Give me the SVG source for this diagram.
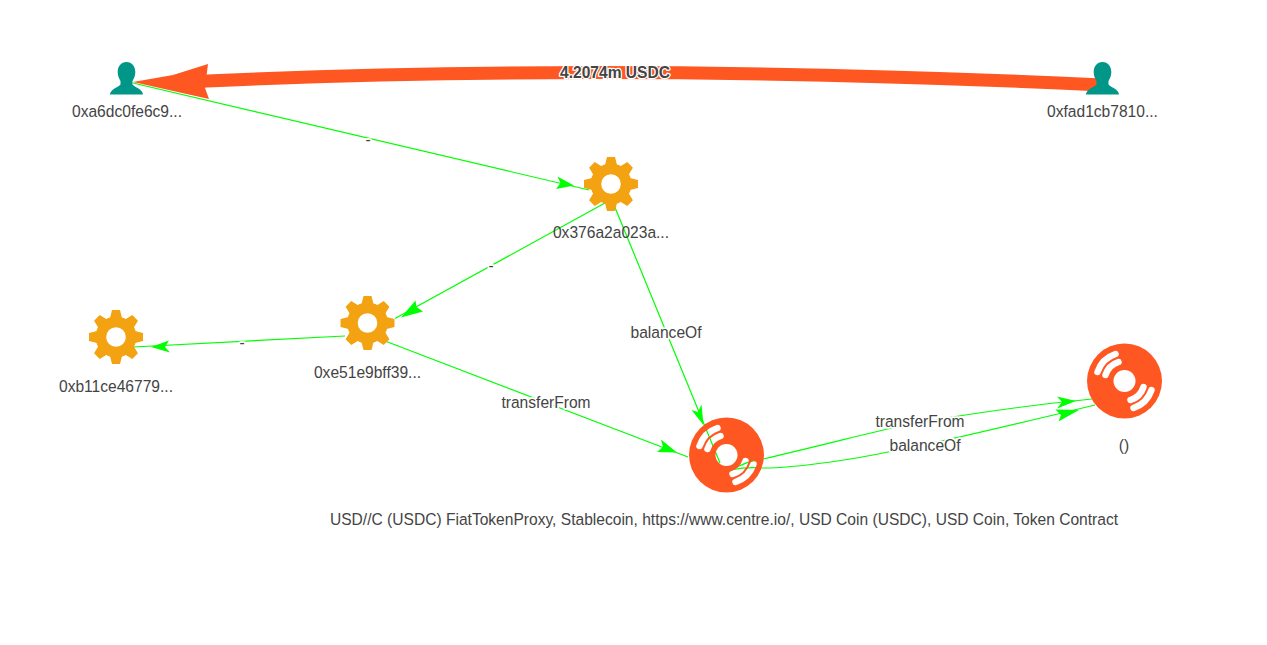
<svg xmlns="http://www.w3.org/2000/svg" width="1267" height="645" viewBox="0 0 1267 645">
<style>
text{font-family:"Liberation Sans",Arial,sans-serif;font-size:15.580px;fill:#444;text-anchor:middle}
.l{stroke:#fff;stroke-width:3.500px;paint-order:stroke;stroke-linejoin:round}
.e{fill:none;stroke:#00ff00;stroke-width:1.200}
.h{fill:#00ff00}
.g{fill:#f3a312}
.p{fill:#009688}
.d{fill:#ff5722}
</style>
<defs>
<mask id="dm" maskUnits="userSpaceOnUse" x="-40" y="-40" width="80" height="80">
<circle r="37.500" fill="#fff"/>
<circle r="11" fill="#000"/>
<g fill="none" stroke="#000" stroke-width="6.500" stroke-linecap="round">
<path d="M-27-9A28.500 28.500 0 0 1-9-27"/><path d="M-19-6A20 20 0 0 1-6-19"/>
<path d="M27 9A28.500 28.500 0 0 1 9 27"/><path d="M19 6A20 20 0 0 1 6 19"/>
</g>
</mask>
<g id="disc"><rect x="-40" y="-40" width="80" height="80" class="d" mask="url(#dm)"/></g>
<path id="t" d="M-4-27H4L6.500-17H-6.500ZM-4 27H4L6.500 17H-6.500Z"/>
<g id="gear"><circle r="20.500" class="g"/><use href="#t" class="g"/><use href="#t" class="g" transform="rotate(45)"/><use href="#t" class="g" transform="rotate(90)"/><use href="#t" class="g" transform="rotate(135)"/><circle r="9.800" fill="#fff"/></g>
<path id="person" class="p" d="M0-16.500C5.500-16.500 8.800-12 8.800-6.500C8.800-2.500 7.500 0 6 2.500V6C8 8.500 16.500 11 16.500 16H-16.500C-16.500 11-8 8.500-6 6V2.500C-7.500 0-8.800-2.500-8.800-6.500C-8.800-12-5.500-16.500 0-16.500Z"/>
</defs>
<g id="connectors">
<path class="e" d="M133 83L589 190"/><path class="h" d="M574 185.500L556 189L560.500 183L557.500 176.500Z"/>
<path class="e" d="M605 203L395 318.500"/><path class="h" d="M401 317.500L415.500 300.500L416.500 307L423 311.500Z"/>
<path class="e" d="M345 336L133 347"/><path class="h" d="M151 347L169 340.500L165 347L170 352.500Z"/>
<path class="e" d="M385 341L688 457"/><path class="h" d="M677 452.500L657 452L663 447L661 439.500Z"/>
<path class="e" d="M614 205L720 463"/><path class="h" d="M703.500 425L691.500 410L698 412L701.500 404.500Z"/>
<path class="e" d="M730 471C745 462 752 461 763 459C820 446 880 430 897 427C920 422 1000 408 1092 399"/><path class="h" d="M1076 401L1057 396.500L1062 402L1057 408.500Z"/>
<path class="e" d="M730 470C745 467 752 467 762 468C800 468 860 458 888 452C920 447 1000 428 1095 405"/><path class="h" d="M1079 410L1055.500 409.500L1061 415L1058.500 421.500Z"/>
<path fill="none" stroke="#ff5722" stroke-width="13" d="M1102 85Q617 62 195 81.500"/>
<path class="d" d="M133 82L173 75L208 64L205 88L209 99Z"/>
</g>
<g id="edge-labels">
<text class="l" x="368" y="145">-</text>
<text class="l" x="491" y="271">-</text>
<text class="l" x="242" y="348">-</text>
<text class="l" x="666" y="338">balanceOf</text>
<text class="l" x="546" y="408">transferFrom</text>
<text class="l" x="920" y="427">transferFrom</text>
<text class="l" x="925" y="451">balanceOf</text>
<text class="l" x="615" y="78" style="font-weight:bold;stroke-width:2.500px">4.2074m USDC</text>
</g>
<g id="n1"><use href="#person" x="126.500" y="78.500"/><text x="127" y="117">0xa6dc0fe6c9...</text></g>
<g id="n2"><use href="#person" x="1102.500" y="78.500"/><text x="1102.500" y="117">0xfad1cb7810...</text></g>
<g id="n3"><use href="#gear" x="611" y="184"/><text x="611" y="238">0x376a2a023a...</text></g>
<g id="n4"><use href="#gear" x="367.500" y="323"/><text x="367.500" y="378">0xe51e9bff39...</text></g>
<g id="n5"><use href="#gear" x="116" y="337"/><text x="116" y="392">0xb11ce46779...</text></g>
<g id="n6"><use href="#disc" x="726.500" y="455"/><text x="724" y="525">USD//C (USDC) FiatTokenProxy, Stablecoin, https://www.centre.io/, USD Coin (USDC), USD Coin, Token Contract</text></g>
<g id="n7"><use href="#disc" x="1124.500" y="381"/><text x="1124" y="451">()</text></g>
</svg>
